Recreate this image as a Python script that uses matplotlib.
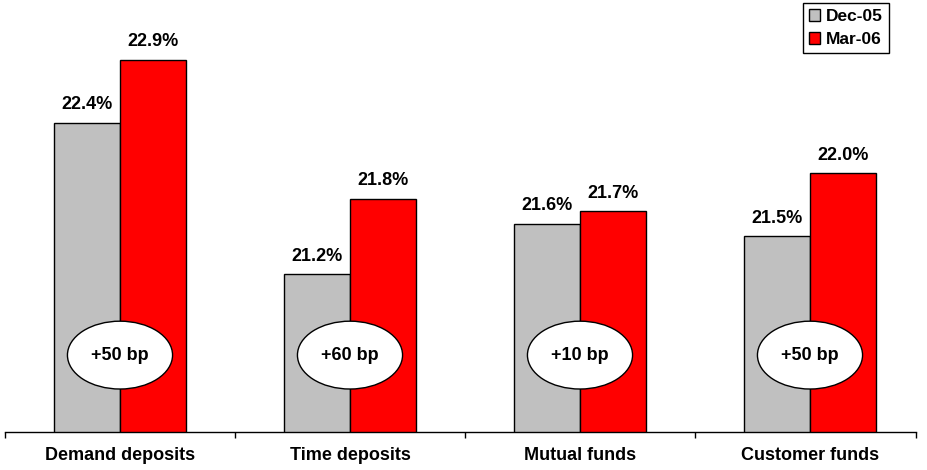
import matplotlib
matplotlib.use("Agg")
import matplotlib.pyplot as plt
import numpy as np
from matplotlib.patches import Ellipse
from matplotlib.transforms import blended_transform_factory

plt.rcParams['font.family'] = ['Liberation Sans', 'DejaVu Sans']
plt.rcParams['font.weight'] = 'bold'

# data
categories = ['Demand deposits', 'Time deposits', 'Mutual funds', 'Customer funds']
dec05 = [22.4, 21.2, 21.6, 21.5]
mar06 = [22.9, 21.8, 21.7, 22.0]
changes = ['+50 bp', '+60 bp', '+10 bp', '+50 bp']
series_names = ['Dec-05', 'Mar-06']

GRAY = '#C0C0C0'
RED = '#FF0000'

fig = plt.figure(figsize=(9.28, 4.70), dpi=100)
ax = fig.add_axes([5 / 928, 38 / 470, 920 / 928, 432 / 470])

x = np.arange(len(categories))
w = 0.287
b1 = ax.bar(x - w / 2, dec05, w, color=GRAY, edgecolor='black', linewidth=1.0,
            label=series_names[0])
b2 = ax.bar(x + w / 2, mar06, w, color=RED, edgecolor='black', linewidth=1.0,
            label=series_names[1])

ax.set_xlim(-0.5, 3.5)
ax.set_ylim(19.95, 23.375)

# value labels
for bars, vals in ((b1, dec05), (b2, mar06)):
    for rect, v in zip(bars, vals):
        ax.annotate(f"{v:.1f}%", (rect.get_x() + rect.get_width() / 2, v),
                    xytext=(0, 7), textcoords='offset points',
                    ha='center', va='bottom', fontsize=13, fontweight='bold')

# change ellipses
trans = blended_transform_factory(ax.transData, ax.transAxes)
for xi, txt in zip(x, changes):
    ell = Ellipse((xi, 0.178), 0.457, 0.157, transform=trans,
                  facecolor='white', edgecolor='black', linewidth=1.0, zorder=4)
    ax.add_patch(ell)
    ax.text(xi, 0.178, txt, transform=trans, ha='center', va='center',
            fontsize=13, fontweight='bold', zorder=5)

# axes styling
for s in ('top', 'right', 'left'):
    ax.spines[s].set_visible(False)
ax.spines['bottom'].set_bounds(-0.5, 3.46)
ax.spines['bottom'].set_linewidth(1.0)
ax.set_yticks([])
ax.set_xticks([-0.5, 0.5, 1.5, 2.5, 3.46])
ax.set_xticklabels([])
ax.tick_params(axis='x', which='major', length=4.5, width=1.0, direction='out')
ax.set_xticks(x, minor=True)
ax.set_xticklabels(categories, minor=True, fontsize=13, fontweight='bold')
ax.tick_params(axis='x', which='minor', length=0, pad=11)

leg = ax.legend(loc='upper right', bbox_to_anchor=(889 / 928, 1 - 3 / 470),
                bbox_transform=fig.transFigure, fontsize=12.5, frameon=True,
                fancybox=False, framealpha=1, edgecolor='black',
                handlelength=0.65, handleheight=0.65, handletextpad=0.35,
                borderpad=0.35, labelspacing=0.45, borderaxespad=0)
leg.get_frame().set_linewidth(1.0)
for t in leg.get_texts():
    t.set_fontweight('bold')

fig.savefig('out.png', dpi=100)
